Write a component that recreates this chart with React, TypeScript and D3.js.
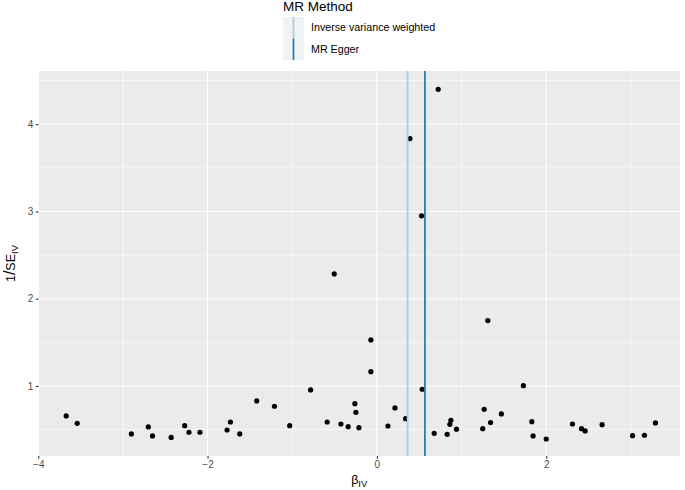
import React, { useEffect, useRef } from 'react';
import * as d3 from 'd3';

// values
const betaIV = [
  -3.67, -3.54, -2.9, -2.7, -2.65, -2.43, -2.27, -2.22, -2.09, -1.77, -1.73, -1.62,
  -1.42, -1.21, -1.03, -0.783, -0.587, -0.504, -0.425, -0.339, -0.26, -0.248, -0.212,
  -0.071, -0.071, 0.13, 0.213, 0.339, 0.39, 0.527, 0.535, 0.677, 0.724, 0.83, 0.862,
  0.874, 0.94, 1.25, 1.267, 1.31, 1.342, 1.47, 1.73, 1.83, 1.845, 2.0, 2.31, 2.417,
  2.46, 2.66, 3.02, 3.16, 3.29
];
const invSE = [
  0.656, 0.572, 0.45, 0.53, 0.427, 0.41, 0.545, 0.469, 0.469, 0.495, 0.587, 0.45,
  0.828, 0.767, 0.545, 0.954, 0.587, 2.284, 0.564, 0.533, 0.797, 0.698, 0.522,
  1.528, 1.164, 0.541, 0.748, 0.625, 3.836, 2.95, 0.962, 0.457, 4.4, 0.446, 0.56,
  0.607, 0.504, 0.51, 0.733, 1.749, 0.58, 0.679, 1.003, 0.591, 0.427, 0.392, 0.564,
  0.51, 0.484, 0.556, 0.43, 0.435, 0.576
];

const methods = ['Inverse variance weighted', 'MR Egger'];
const methodEstimates = [0.362, 0.567];
const methodColors = ['#a6cee3', '#1f78b4'];

const xTicks = [-4, -2, 0, 2];
const xMinor = [-3, -1, 1, 3];
const yTicks = [1, 2, 3, 4];
const yMinor = [0.5, 1.5, 2.5, 3.5, 4.5];

export default function App() {
  const ref = useRef<SVGSVGElement>(null);

  useEffect(() => {
    document.body.style.margin = '0';
    const width = 685, height = 490;
    const margin = { top: 71, right: 5, bottom: 34, left: 38.5 };
    const svg = d3.select(ref.current);
    svg.selectAll('*').remove();

    const font = 'Liberation Sans, Arial, sans-serif';
    const iw = width - margin.left - margin.right;
    const ih = height - margin.top - margin.bottom;

    const x = d3.scaleLinear().domain([-3.997, 3.58]).range([0, iw]);
    const y = d3.scaleLinear().domain([0.197, 4.61]).range([ih, 0]);

    const g = svg.append('g').attr('transform', `translate(${margin.left},${margin.top})`);

    g.append('rect').attr('width', iw).attr('height', ih).attr('fill', '#ebebeb');

    // grid
    g.selectAll('.xminor').data(xMinor).enter().append('line')
      .attr('x1', d => x(d)).attr('x2', d => x(d)).attr('y1', 0).attr('y2', ih)
      .attr('stroke', '#fff').attr('stroke-width', 0.55);
    g.selectAll('.yminor').data(yMinor).enter().append('line')
      .attr('y1', d => y(d)).attr('y2', d => y(d)).attr('x1', 0).attr('x2', iw)
      .attr('stroke', '#fff').attr('stroke-width', 0.55);
    g.selectAll('.xmajor').data(xTicks).enter().append('line')
      .attr('x1', d => x(d)).attr('x2', d => x(d)).attr('y1', 0).attr('y2', ih)
      .attr('stroke', '#fff').attr('stroke-width', 1.1);
    g.selectAll('.ymajor').data(yTicks).enter().append('line')
      .attr('y1', d => y(d)).attr('y2', d => y(d)).attr('x1', 0).attr('x2', iw)
      .attr('stroke', '#fff').attr('stroke-width', 1.1);

    // points
    g.selectAll('.dot').data(betaIV).enter().append('circle')
      .attr('cx', d => x(d)).attr('cy', (d, i) => y(invSE[i])).attr('r', 2.6)
      .attr('fill', '#000');

    // method lines
    g.selectAll('.vline').data(methodEstimates).enter().append('line')
      .attr('x1', d => x(d)).attr('x2', d => x(d)).attr('y1', 0).attr('y2', ih)
      .attr('stroke', (d, i) => methodColors[i]).attr('stroke-width', 1.7);

    // axes
    const fmt = (d: any) => d3.format('d')(d as number).replace('-', '\u2212');
    const xAxis = g.append('g').attr('transform', `translate(0,${ih})`)
      .call(d3.axisBottom(x).tickValues(xTicks).tickSize(2.7).tickPadding(2.5).tickFormat(fmt));
    const yAxis = g.append('g')
      .call(d3.axisLeft(y).tickValues(yTicks).tickSize(2.7).tickPadding(2.5).tickFormat(fmt));
    [xAxis, yAxis].forEach(a => {
      a.select('.domain').remove();
      a.selectAll('line').attr('stroke', '#333333').attr('stroke-width', 1.1);
      a.selectAll('text').attr('fill', '#4d4d4d').style('font', `10px ${font}`);
    });

    // axis titles
    const xt = svg.append('text').attr('x', margin.left + iw / 2).attr('y', 484)
      .attr('text-anchor', 'middle').style('font', `12.5px ${font}`).attr('fill', '#000');
    xt.append('tspan').text('\u03b2');
    xt.append('tspan').attr('dy', 2.5).style('font-size', '9.5px').text('IV');

    const yt = svg.append('text').attr('transform', `translate(15,${margin.top + ih / 2}) rotate(-90)`)
      .attr('text-anchor', 'middle').style('font', `12.5px ${font}`).attr('fill', '#000');
    yt.append('tspan').text('1');
    yt.append('tspan').style('font-size', '16px').text('/');
    yt.append('tspan').text('SE');
    yt.append('tspan').attr('dy', 3).style('font-size', '9.5px').text('IV');

    // legend
    const lg = svg.append('g').attr('transform', 'translate(283,0)');
    lg.append('text').attr('x', 0).attr('y', 11).style('font', `13.5px ${font}`).text('MR Method');
    const keyH = 21.5;
    const item = lg.selectAll('.legend').data(methods).enter().append('g')
      .attr('transform', (d, i) => `translate(0,${17 + i * keyH})`);
    item.append('rect').attr('width', 21).attr('height', keyH).attr('fill', '#f2f2f2');
    item.append('line').attr('x1', 10.5).attr('x2', 10.5).attr('y1', 0).attr('y2', keyH)
      .attr('stroke', (d, i) => methodColors[i]).attr('stroke-width', 1.7);
    item.append('text').attr('x', 28).attr('y', keyH / 2).attr('dy', '0.35em')
      .style('font', `10.7px ${font}`).attr('fill', '#000').text(d => d);
  }, []);

  return <svg ref={ref} width={685} height={490} style={{ display: 'block' }} />;
}
